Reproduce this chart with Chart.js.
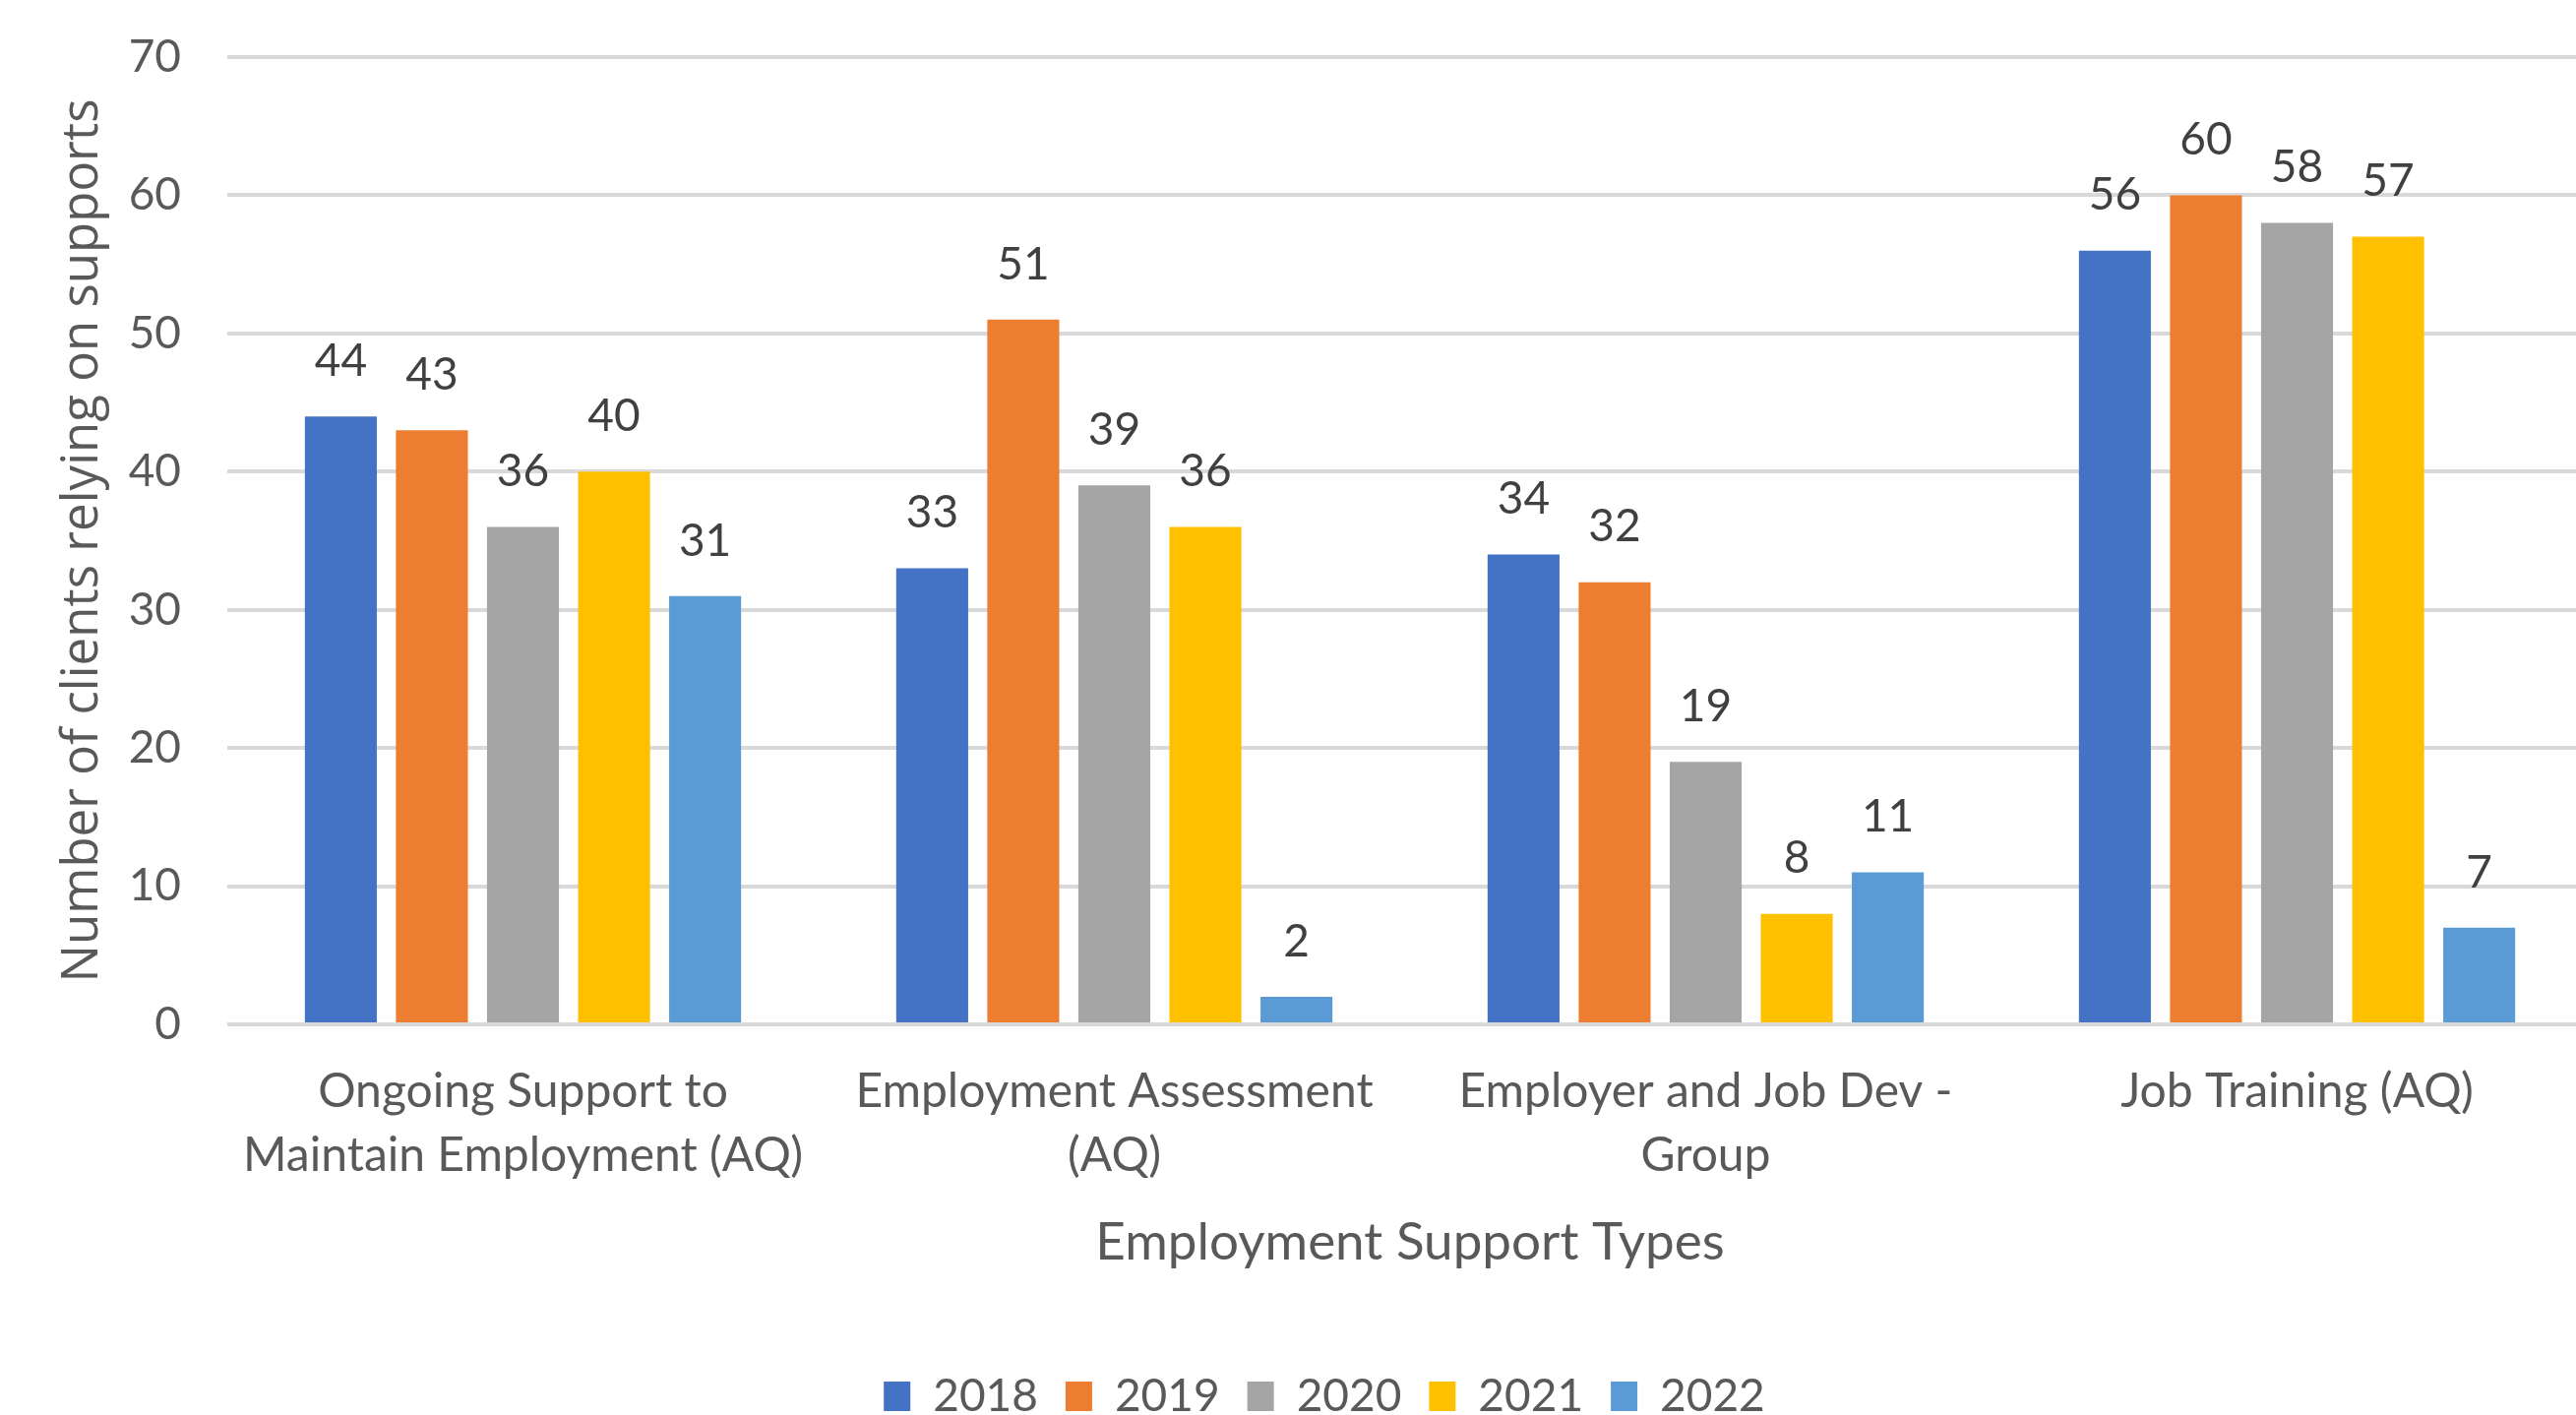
<!DOCTYPE html>
<html>
<head>
<meta charset="utf-8">
<script src="https://cdn.jsdelivr.net/npm/chart.js@4.4.0/dist/chart.umd.min.js"></script>
<style>
  html, body { margin: 0; padding: 0; background: #ffffff; overflow: hidden; }
  #wrap { position: absolute; left: 0; top: 0; width: 2692px; height: 1452px; }
</style>
</head>
<body>
<div id="wrap"><canvas id="c" width="2692" height="1452"></canvas></div>
<script>
const categories = [
  ["Ongoing Support to", "Maintain Employment (AQ)"],
  ["Employment Assessment", "(AQ)"],
  ["Employer and Job Dev -", "Group"],
  ["Job Training (AQ)"]
];
const seriesNames = ["2018", "2019", "2020", "2021", "2022"];
const values2018 = [44, 33, 34, 56];
const values2019 = [43, 51, 32, 60];
const values2020 = [36, 39, 19, 58];
const values2021 = [40, 36, 8, 57];
const values2022 = [31, 2, 11, 7];
const yTicks = [0, 10, 20, 30, 40, 50, 60, 70];
const xTitle = "Employment Support Types";
const yTitle = "Number of clients relying on supports";

const colors = ["#4472C4", "#ED7D31", "#A5A5A5", "#FFC000", "#5B9BD5"];
const allValues = [values2018, values2019, values2020, values2021, values2022];

const FONT = "Lato, 'Noto Sans', sans-serif";
const FS = 46;

const dataLabels = {
  id: 'dataLabels',
  afterDatasetsDraw(chart) {
    const ctx = chart.ctx;
    ctx.save();
    ctx.font = FS + "px " + FONT;
    ctx.fillStyle = "#404040";
    ctx.textAlign = "center";
    ctx.textBaseline = "middle";
    chart.data.datasets.forEach((ds, i) => {
      const meta = chart.getDatasetMeta(i);
      meta.data.forEach((el, j) => {
        ctx.fillText(String(ds.data[j]), el.x, el.y - 56);
      });
    });
    ctx.restore();
  }
};

new Chart(document.getElementById('c'), {
  type: 'bar',
  data: {
    labels: categories,
    datasets: seriesNames.map((n, i) => ({
      label: n,
      data: allValues[i],
      backgroundColor: colors[i],
      borderWidth: 0,
      categoryPercentage: 0.77,
      barPercentage: 0.79
    }))
  },
  options: {
    responsive: false,
    animation: false,
    devicePixelRatio: 1,
    layout: { padding: { top: 0, right: 0, bottom: 0, left: 0 } },
    plugins: {
      legend: {
        position: 'bottom',
        labels: {
          boxWidth: 27,
          boxHeight: 30,
          padding: 28,
          color: "#595959",
          font: { family: FONT, size: FS }
        }
      },
      tooltip: { enabled: false }
    },
    scales: {
      x: {
        afterFit(scale) { scale.height = 327; },
        grid: { display: false, drawTicks: false },
        border: { display: false },
        ticks: {
          color: "#595959",
          padding: 36,
          font: { family: FONT, size: 48, lineHeight: 1.35 }
        },
        title: {
          display: true,
          text: xTitle,
          color: "#595959",
          font: { family: FONT, size: 53, lineHeight: 1.2 },
          padding: { top: 25, bottom: 73 }
        }
      },
      y: {
        min: 0,
        max: 70,
        afterBuildTicks(scale) { scale.ticks = yTicks.map(v => ({ value: v })); },
        afterFit(scale) { scale.width = 231; },
        grid: { color: "#D9D9D9", lineWidth: 4, drawTicks: false },
        border: { display: false },
        ticks: {
          color: "#595959",
          padding: 47,
          font: { family: FONT, size: FS, lineHeight: 0.48 }
        },
        title: {
          display: true,
          text: yTitle,
          color: "#595959",
          font: { family: "'Open Sans', sans-serif", size: 51, lineHeight: 1.2 },
          padding: { top: 54, bottom: 10 }
        }
      },
      rightSpace: {
        position: 'right',
        afterFit(scale) { scale.width = 57; },
        grid: { display: false, drawTicks: false },
        border: { display: false },
        ticks: { display: false }
      }
    }
  },
  plugins: [dataLabels]
});
</script>
</body>
</html>
